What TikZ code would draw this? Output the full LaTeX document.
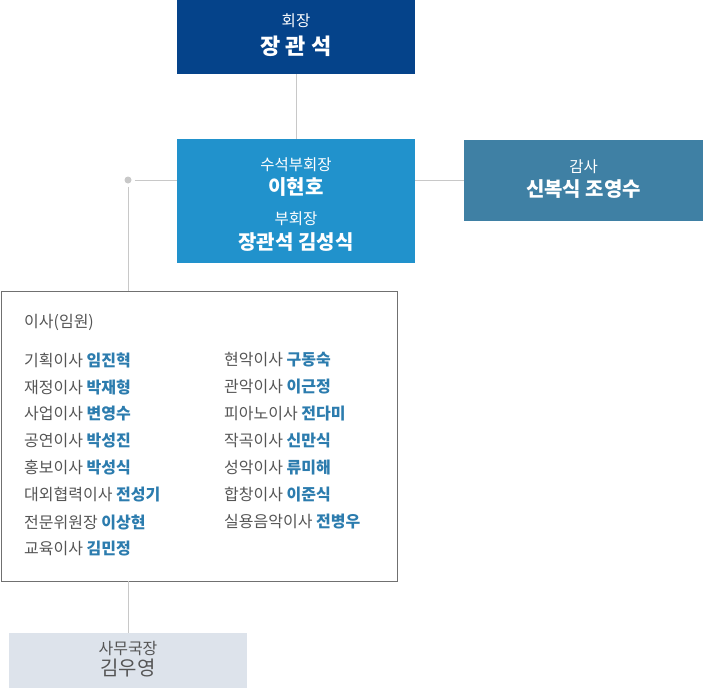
\documentclass[tikz,border=0pt]{standalone}
\usepackage{fontspec}
\setmainfont{Noto Sans CJK KR}
\usetikzlibrary{positioning}
\definecolor{presblue}{RGB}{5,67,138}
\definecolor{viceblue}{RGB}{33,146,204}
\definecolor{auditblue}{RGB}{63,128,164}
\definecolor{officegray}{RGB}{221,227,235}
\definecolor{linegray}{RGB}{200,200,200}
\definecolor{framegray}{RGB}{112,112,112}
\definecolor{textgray}{RGB}{85,85,85}
\definecolor{nameblue}{RGB}{44,124,174}
\tikzstyle{orgchart}=[x=1pt, y=-1pt, inner sep=0pt]
\tikzstyle{box}=[rectangle, inner sep=0pt, minimum width=238pt]
\tikzstyle{pres}=[box, fill=presblue, minimum height=74pt]
\tikzstyle{vice}=[box, fill=viceblue, minimum height=124pt]
\tikzstyle{audit}=[box, fill=auditblue, minimum width=239pt, minimum height=81pt]
\tikzstyle{office}=[box, fill=officegray, minimum height=55pt]
\tikzstyle{board}=[rectangle, draw=framegray, line width=0.9pt, minimum width=396pt, minimum height=290pt]
\tikzstyle{ttl}=[text=white, font=\fontsize{15.5}{18}\selectfont]
\tikzstyle{nm}=[text=white, font=\fontsize{20}{23}\selectfont\bfseries]
\tikzstyle{row}=[anchor=west, text=textgray, font=\fontsize{16}{19}\selectfont]
\tikzstyle{dot}=[circle, fill=linegray, minimum size=7pt]
\tikzstyle{link}=[draw=linegray, line width=1pt]
\newcommand{\who}[1]{\textcolor{nameblue}{\bfseries #1}}
\newcommand{\colL}{24}
\newcommand{\colR}{224}

\begin{document}
\begin{tikzpicture}[orgchart]
	\useasboundingbox (0,0) rectangle (703,688);
	%% boxes
	\draw (296,37) node[pres] (pres) {};
	\draw (296,201) node[vice] (vice) {};
	\draw (583.5,180) node[audit] (audit) {};
	\draw (199,436) node[board] (board) {};
	\draw (128,660.5) node[office] (office) {};
	\draw (128,180) node[dot] (dot) {};
	%%
	\draw (296,21) node[ttl] (presT) {회장};
	\draw (296,46) node[nm, font=\fontsize{22}{25}\selectfont\bfseries] (presN) {장 관 석};
	%%
	\draw (296,165) node[ttl] (viceT) {수석부회장};
	\draw (296,187) node[nm] (viceN) {이현호};
	\draw (296,219) node[ttl] (vice2T) {부회장};
	\draw (296,242) node[nm] (vice2N) {장관석 김성식};
	%%
	\draw (583.5,167) node[ttl] (auditT) {감사};
	\draw (583.5,189) node[nm] (auditN) {신복식 조영수};
	%%
	\draw (128,648) node[text=textgray, font=\fontsize{16}{19}\selectfont] (officeT) {사무국장};
	\draw (128,668) node[text=textgray, font=\fontsize{20}{23}\selectfont] (officeN) {김우영};
	%%%%%%
	\draw (\colL,322) node[row] (boardT) {이사(임원)};
	%%
	\draw (\colL,360) node[row] (b1) {기획이사 \who{임진혁}};
	\draw (\colL,387) node[row] (b2) {재정이사 \who{박재형}};
	\draw (\colL,414) node[row] (b3) {사업이사 \who{변영수}};
	\draw (\colL,441) node[row] (b4) {공연이사 \who{박성진}};
	\draw (\colL,468) node[row] (b5) {홍보이사 \who{박성식}};
	\draw (\colL,495) node[row] (b6) {대외협력이사 \who{전성기}};
	\draw (\colL,522) node[row] (b7) {전문위원장 \who{이상현}};
	\draw (\colL,549) node[row] (b8) {교육이사 \who{김민정}};
	%%
	\draw (\colR,360) node[row] (c1) {현악이사 \who{구동숙}};
	\draw (\colR,387) node[row] (c2) {관악이사 \who{이근정}};
	\draw (\colR,414) node[row] (c3) {피아노이사 \who{전다미}};
	\draw (\colR,441) node[row] (c4) {작곡이사 \who{신만식}};
	\draw (\colR,468) node[row] (c5) {성악이사 \who{류미해}};
	\draw (\colR,495) node[row] (c6) {합창이사 \who{이준식}};
	\draw (\colR,522) node[row] (c7) {실용음악이사 \who{전병우}};
	%%%%%%
	\draw[link] (pres.south) -- (vice.north);
	\draw[link] (audit.west -| vice.east) -- (audit.west);
	\draw[link] ([xshift=3pt]dot.east) -- (dot -| vice.west);
	\draw[link] ([yshift=-3pt]dot.south) -- (dot |- board.north);
	\draw[link] (office.north |- board.south) -- (office.north);
\end{tikzpicture}
\end{document}
